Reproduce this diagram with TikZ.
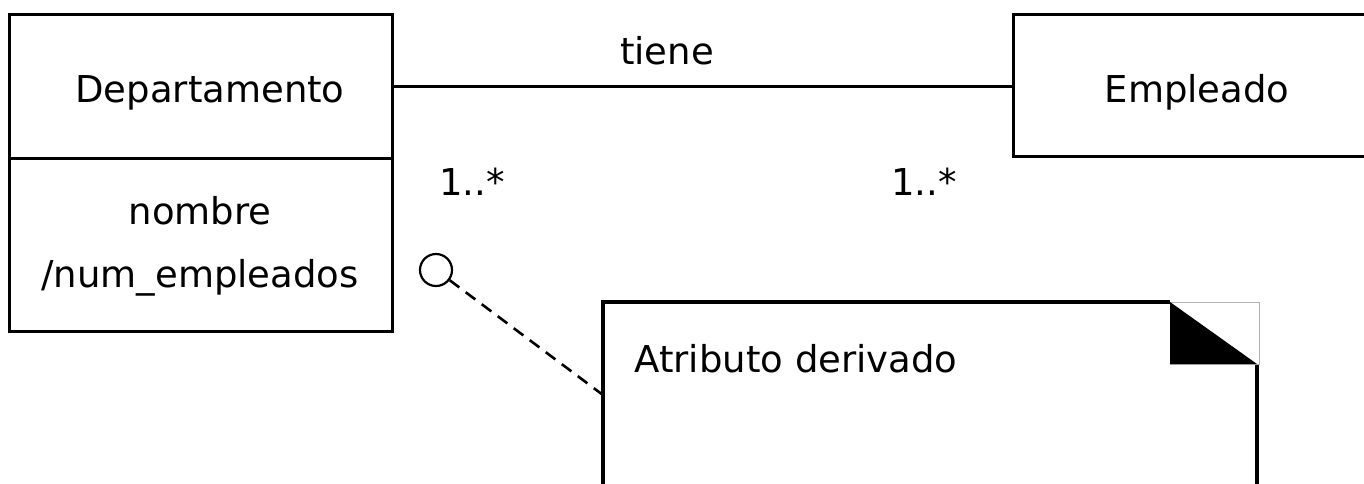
\documentclass[tikz,border=0pt]{standalone}
\usepackage{fontspec}
\setmainfont{DejaVu Sans}
\begin{document}
\begin{tikzpicture}[x=1pt,y=-1pt,
  box/.style={draw, line width=3.3pt, inner sep=0pt, anchor=north west},
  lbl/.style={anchor=base, inner sep=0pt, font=\fontsize{37}{44}\selectfont},
  thick3/.style={line width=3.3pt}]
\useasboundingbox (0,0) rectangle (1364,483);
\clip (0,0) rectangle (1364,483);
% Departamento class
\node[box, minimum width=383pt, minimum height=144pt] (dept) at (8,13) {};
\node[box, minimum width=383pt, minimum height=173pt] (attrs) at (8,157) {};
\node[lbl] (deptlbl) at (210,102) {Departamento};
\node[lbl] (nombre) at (200,224) {nombre};
\node[lbl] (numemp) at (200,287) {/num\_empleados};
% Empleado class
\node[box, minimum width=400pt, minimum height=142pt] (emp) at (1012,13) {};
\node[lbl] (emplbl) at (1197,102) {Empleado};
% association
\draw[thick3] (dept.east) -- (emp.west |- dept.east);
\node[lbl] (tiene) at (667,64) {tiene};
\node[lbl] (m1) at (472,195) {1..*};
\node[lbl] (m2) at (924,195) {1..*};
% note
\draw[thick3] (603,520) -- (603,302) -- (1170,302);
\draw[thick3] (1257,520) -- (1257,364);
\draw[line width=0.8pt, gray!60] (1170,302) rectangle (1259,364);
\fill[black] (1170,302) -- (1170,364) -- (1257,364) -- cycle;
\node[lbl] (notelbl) at (796,372) {Atributo derivado};
\coordinate (notew) at (603,395);
% derived attribute marker
\node[circle, draw, line width=2.2pt, minimum size=32pt, inner sep=0pt] (circ) at (436,270) {};
\draw[line width=2.6pt, dash pattern=on 12pt off 8pt] (circ) -- (notew);
\end{tikzpicture}
\end{document}
